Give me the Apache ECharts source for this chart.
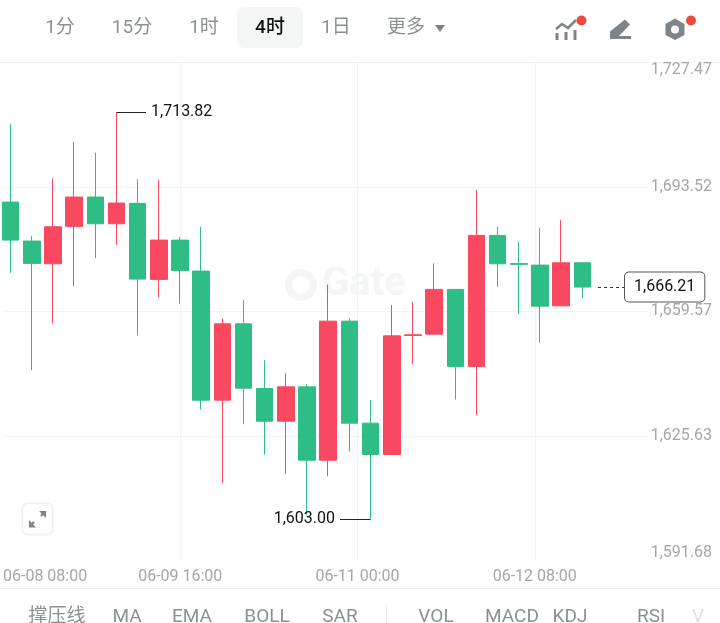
<!DOCTYPE html>
<html>
<head>
<meta charset="utf-8">
<style>html,body{margin:0;padding:0;background:#fff}#chart{width:720px;height:623px}</style>
<script src="https://cdn.jsdelivr.net/npm/echarts@6/dist/echarts.min.js"></script>
</head>
<body>
<div id="chart"></div>
<script>
// 4-hour candles, oldest first
const times = ['06-08 08:00','06-08 12:00','06-08 16:00','06-08 20:00','06-09 00:00','06-09 04:00','06-09 08:00','06-09 12:00',
  '06-09 16:00','06-09 20:00','06-10 00:00','06-10 04:00','06-10 08:00','06-10 12:00','06-10 16:00','06-10 20:00',
  '06-11 00:00','06-11 04:00','06-11 08:00','06-11 12:00','06-11 16:00','06-11 20:00','06-12 00:00','06-12 04:00',
  '06-12 08:00','06-12 12:00','06-12 16:00','06-12 20:00'];
const opens = [1689.37,1678.74,1672.55,1682.75,1690.74,1683.46,1689.02,1668.30,1679.01,1670.56,1635.38,1656.19,1638.57,1629.65,
  1639.01,1619.02,1656.92,1629.11,1620.57,1653.00,1653.38,1665.57,1644.57,1680.29,1672.60,1672.19,1661.10,1672.82];
const closes = [1679.01,1672.66,1682.64,1690.74,1683.46,1689.10,1668.38,1679.01,1670.75,1635.38,1656.19,1638.65,1629.65,1639.01,
  1619.02,1656.92,1629.11,1620.57,1652.91,1653.20,1665.57,1644.57,1680.29,1672.55,1672.40,1661.01,1672.82,1666.21];
const lows = [1670.09,1643.56,1656.30,1666.47,1674.10,1677.73,1653.02,1663.39,1661.64,1632.84,1612.83,1628.84,1620.57,1615.28,
  1604.02,1614.65,1621.39,1603.00,1620.57,1645.20,1653.38,1635.57,1631.29,1666.28,1658.91,1651.11,1661.10,1663.11];
const highs = [1710.65,1680.10,1695.84,1705.74,1702.82,1713.82,1695.56,1695.46,1679.83,1682.64,1657.66,1662.65,1646.29,1642.66,
  1639.74,1666.93,1657.74,1635.46,1661.29,1662.24,1672.66,1665.57,1692.65,1682.64,1678.47,1682.37,1684.47,1672.82];

const priceTicks = ['1,591.68','1,625.63','1,659.57','1,693.52','1,727.47'];
const timeTicks = ['06-08 08:00','06-09 16:00','06-11 00:00','06-12 08:00',''];
const priceMin = 1591.68, priceMax = 1727.47;
const highestPrice = 1713.82, lowestPrice = 1603.00, lastPrice = 1666.21;
const highestLabel = '1,713.82', lowestLabel = '1,603.00', lastLabel = '1,666.21';

const tabs = ['1分','15分','1时','4时','1日','更多'];
const indicators = ['撑压线','MA','EMA','BOLL','SAR','VOL','MACD','KDJ','RSI','V'];

const UP = '#F84960', DOWN = '#2EBD85', GREY = '#7F8488', FONT = 'Roboto, "Noto Sans CJK SC", sans-serif';
const tabX = [60,132,204,270,336,406];
const indicatorX = [57,127,192,267,340,436,512,570,651,698];

const label = (text, x, y, opts) => ({
  type: 'text', x, y,
  style: Object.assign({ text, fontFamily: FONT, fontSize: 19, fill: '#8B9095', align: 'center', verticalAlign: 'middle' }, opts || {})
});
const line = (x1, y1, x2, y2, stroke, width) => ({
  type: 'line', shape: { x1, y1, x2, y2 }, style: { stroke, lineWidth: width || 1 }
});
const poly = (points, fill) => ({ type: 'polygon', shape: { points }, style: { fill } });

const graphics = [
  // watermark, sits behind the candles
  { type: 'circle', z: -1, shape: { cx: 301, cy: 285, r: 12.5 }, style: { fill: 'none', stroke: '#F4F5F5', lineWidth: 7 } },
  label('Gate', 364, 285, { fontSize: 40, fontWeight: 'bold', fill: '#F4F5F5' }),
  // timeframe tabs
  { type: 'rect', shape: { x: 237, y: 7, width: 66, height: 41, r: 7 }, style: { fill: '#F4F6F6' } },
  ...tabs.map((t, i) => label(t, tabX[i], 28, t === '4时' ? { fill: '#111', fontWeight: 500 } : {})),
  poly([[435,25],[445,25],[440,32]], GREY),
  // toolbar icons
  { type: 'polyline', shape: { points: [[556,29],[562,24],[568,28],[576,20]] }, style: { stroke: GREY, lineWidth: 2.6, fill: 'none' } },
  { type: 'rect', shape: { x: 555.5, y: 33, width: 3, height: 7 }, style: { fill: GREY } },
  { type: 'rect', shape: { x: 564.5, y: 32, width: 3, height: 8 }, style: { fill: GREY } },
  { type: 'rect', shape: { x: 573.5, y: 30, width: 3, height: 10 }, style: { fill: GREY } },
  { type: 'circle', shape: { cx: 581.5, cy: 20.5, r: 5 }, style: { fill: '#EB4B3F' } },
  poly([[625,19.5],[630,24.5],[619,36],[610,36],[610,31.5]], GREY),
  { type: 'rect', shape: { x: 610, y: 36, width: 21, height: 3 }, style: { fill: GREY } },
  poly([[675,18.5],[684.5,24],[684.5,35],[675,40],[665.5,35],[665.5,24]], GREY),
  { type: 'circle', shape: { cx: 675, cy: 29.5, r: 4 }, style: { fill: '#fff' } },
  { type: 'circle', shape: { cx: 691, cy: 20.5, r: 5 }, style: { fill: '#EB4B3F' } },
  // frame rules
  line(0, 62.5, 720, 62.5, '#EEEFF0'),
  line(0, 588.5, 720, 588.5, '#EEEFF0'),
  line(386.5, 604, 386.5, 623, '#EEEFF0'),
  // full-screen button
  { type: 'rect', shape: { x: 22.5, y: 503.5, width: 30, height: 31, r: 5 }, style: { fill: '#fff', stroke: '#EFEFEF', shadowBlur: 3, shadowColor: 'rgba(0,0,0,0.06)' } },
  line(41, 516, 44, 513, GREY, 2.4),
  line(34, 522, 31, 525, GREY, 2.4),
  poly([[39,511],[46,511],[46,518]], GREY),
  poly([[29,520],[29,527.5],[36,527.5]], GREY),
  // indicator strip
  ...indicators.map((t, i) => label(t, indicatorX[i], 617, t === 'V' ? { fill: '#DDDFE0' } : {}))
];

const hLine = (fromPoint, toPoint, text, position) => [
  Object.assign({
    lineStyle: { color: '#222', width: 1, type: 'solid' },
    label: { show: true, formatter: text, position: position || 'end', color: '#111', fontFamily: FONT, fontSize: 16, distance: 5 }
  }, fromPoint),
  toPoint
];

const chart = echarts.init(document.getElementById('chart'), null, { renderer: 'canvas' });
chart.setOption({
  animation: false,
  backgroundColor: '#fff',
  graphic: { elements: graphics },
  grid: [
    { left: -6.1, top: 62.3, width: 736.1, height: 498.2 },
    { left: 0, top: 62.3, width: 712, height: 498.2 }
  ],
  xAxis: [
    { type: 'category', gridIndex: 0, data: times.concat(['','','','','','']), axisLine: { show: false }, axisTick: { show: false }, axisLabel: { show: false }, splitLine: { show: false } },
    {
      type: 'category', gridIndex: 1, boundaryGap: false, data: timeTicks,
      axisLine: { show: false }, axisTick: { show: false },
      axisLabel: { interval: 0, color: '#A3A7AB', fontFamily: FONT, fontSize: 16, margin: 8, alignMinLabel: 'left' },
      splitLine: { show: true, interval: 0, showMinLine: false, showMaxLine: false, lineStyle: { color: '#F1F2F3', width: 1 } }
    }
  ],
  yAxis: [
    { type: 'value', gridIndex: 0, min: priceMin, max: priceMax, show: false, splitLine: { show: false } },
    {
      type: 'category', gridIndex: 1, position: 'right', boundaryGap: false, data: priceTicks,
      axisLine: { show: false }, axisTick: { show: false },
      axisLabel: { inside: true, margin: 0, interval: 0, color: '#A3A7AB', fontFamily: FONT, fontSize: 16, backgroundColor: '#fff', padding: [0, 0, 0, 2],
        verticalAlignMinLabel: 'bottom', verticalAlignMaxLabel: 'top' },
      splitLine: { show: true, interval: 0, showMinLine: false, showMaxLine: false, lineStyle: { color: '#F1F2F3', width: 1 } }
    }
  ],
  series: [{
    type: 'candlestick',
    xAxisIndex: 0, yAxisIndex: 0,
    barWidth: 17,
    data: times.map((_, i) => [opens[i], closes[i], lows[i], highs[i]]),
    itemStyle: { color: UP, color0: DOWN, borderColor: UP, borderColor0: DOWN, borderWidth: 1 },
    markLine: {
      silent: true,
      symbol: 'none',
      animation: false,
      data: [
        hLine({ coord: [5, highestPrice] }, { x: 146, yAxis: highestPrice }, highestLabel),
        hLine({ coord: [17, lowestPrice] }, { x: 340, yAxis: lowestPrice }, lowestLabel),
        [{
          lineStyle: { color: '#333', width: 1, type: [3, 3] },
          label: { show: true, formatter: lastLabel, position: 'end', distance: 0, color: '#111', fontFamily: FONT, fontSize: 16,
            backgroundColor: '#fff', borderColor: '#555', borderWidth: 1, borderRadius: 4, padding: [7, 9, 6, 9] },
          coord: [27, lastPrice], x: 598
        }, { x: 625, yAxis: lastPrice }]
      ]
    }
  }]
});
</script>
</body>
</html>
